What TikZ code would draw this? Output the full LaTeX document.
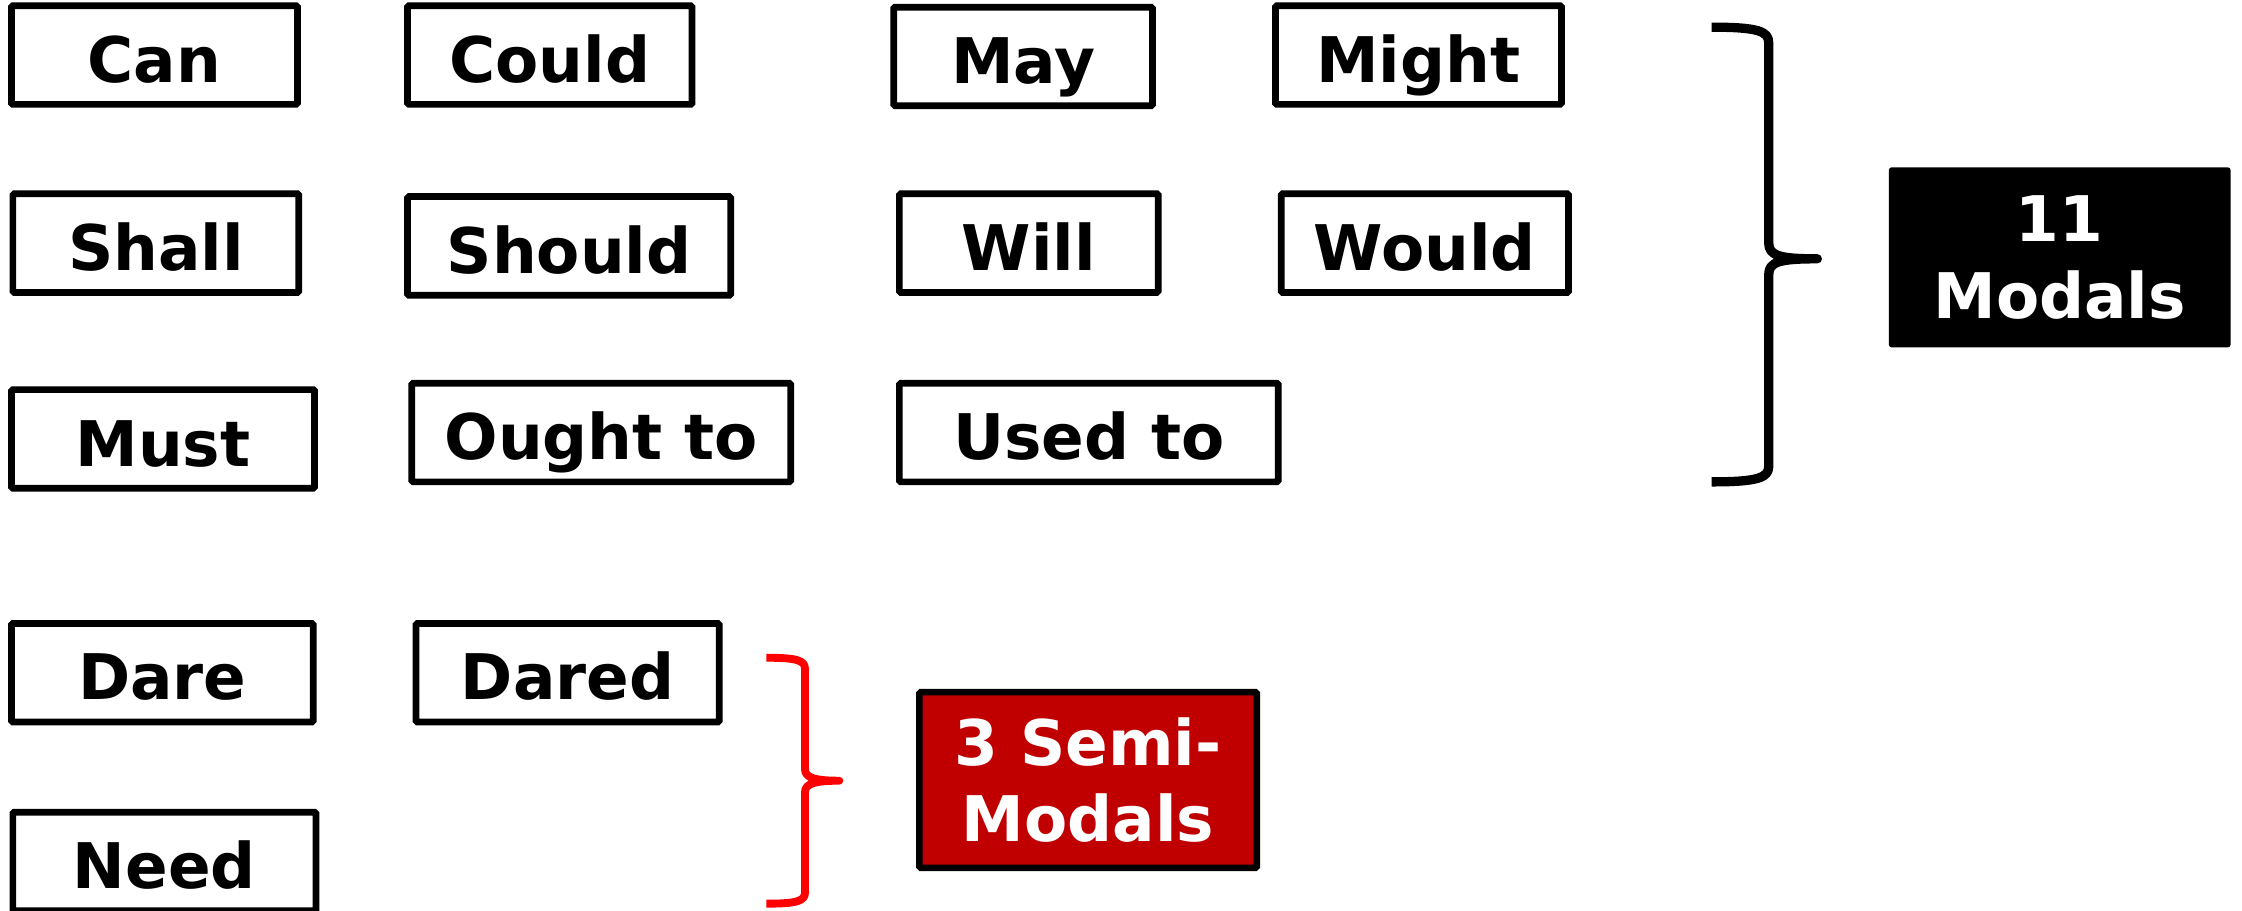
\documentclass[tikz,border=0pt]{standalone}
\usepackage{fontspec}
\setmainfont{DejaVu Sans}
\usepackage{tikz}
\definecolor{semired}{HTML}{C00000}

\begin{document}
\begin{tikzpicture}[x=1pt,y=-1pt,
  word/.style={draw, line width=4.7pt, rounded corners=1pt, inner sep=0pt, minimum height=69pt,
    font=\fontsize{44}{53}\selectfont\bfseries, text height=44pt, text depth=6pt},
  total/.style={inner sep=0pt, rounded corners=2pt, text=white, align=center,
    font=\fontsize{44}{53.6}\selectfont\bfseries}]
\useasboundingbox (0,0) rectangle (1568,637);
\node[word, minimum width=200pt] (can) at (108,38.5) {Can};
\node[word, minimum width=199pt] (could) at (384.5,38.5) {Could};
\node[word, minimum width=181pt] (may) at (715.5,39.5) {May};
\node[word, minimum width=200pt] (might) at (992,38.5) {Might};
\node[word, minimum width=200pt] (shall) at (109,170) {Shall};
\node[word, minimum width=226pt] (should) at (398,172) {Should};
\node[word, minimum width=181pt] (will) at (719.5,170) {Will};
\node[word, minimum width=201pt] (would) at (996.5,170) {Would};
\node[word, minimum width=212pt] (must) at (114,307) {Must};
\node[word, minimum width=265pt] (ought) at (420.5,302.5) {Ought to};
\node[word, minimum width=265pt] (used) at (761.5,302.5) {Used to};
\node[word, minimum width=211pt] (dare) at (113.5,470.5) {Dare};
\node[word, minimum width=212pt] (dared) at (397,470.5) {Dared};
\node[word, minimum width=212pt] (need) at (115,602.5) {Need};
\draw[line width=6.5pt, line join=round] (1197,19) .. controls (1230,19) and (1237,22) .. (1237,30) -- (1237,170)
  .. controls (1237,179) and (1245,181) .. (1271,181) .. controls (1245,181) and (1237,183) .. (1237,192)
  -- (1237,326) .. controls (1237,334) and (1230,337) .. (1197,337);
\node[total, fill=black, minimum width=239pt, minimum height=126pt] (modals) at (1440.5,180) {11\\Modals};
\draw[red, line width=5.5pt, line join=round] (536,460) .. controls (558,460) and (563,462) .. (563,468) -- (563,538)
  .. controls (563,544) and (570,546) .. (587,546) .. controls (570,546) and (563,548) .. (563,554)
  -- (563,624) .. controls (563,630) and (558,632) .. (536,632);
\node[total, draw=black, line width=4.5pt, rounded corners=1pt, fill=semired, minimum width=236pt, minimum height=123pt] (semi) at (761,545.5) {3 Semi-\\Modals};
\end{tikzpicture}
\end{document}
